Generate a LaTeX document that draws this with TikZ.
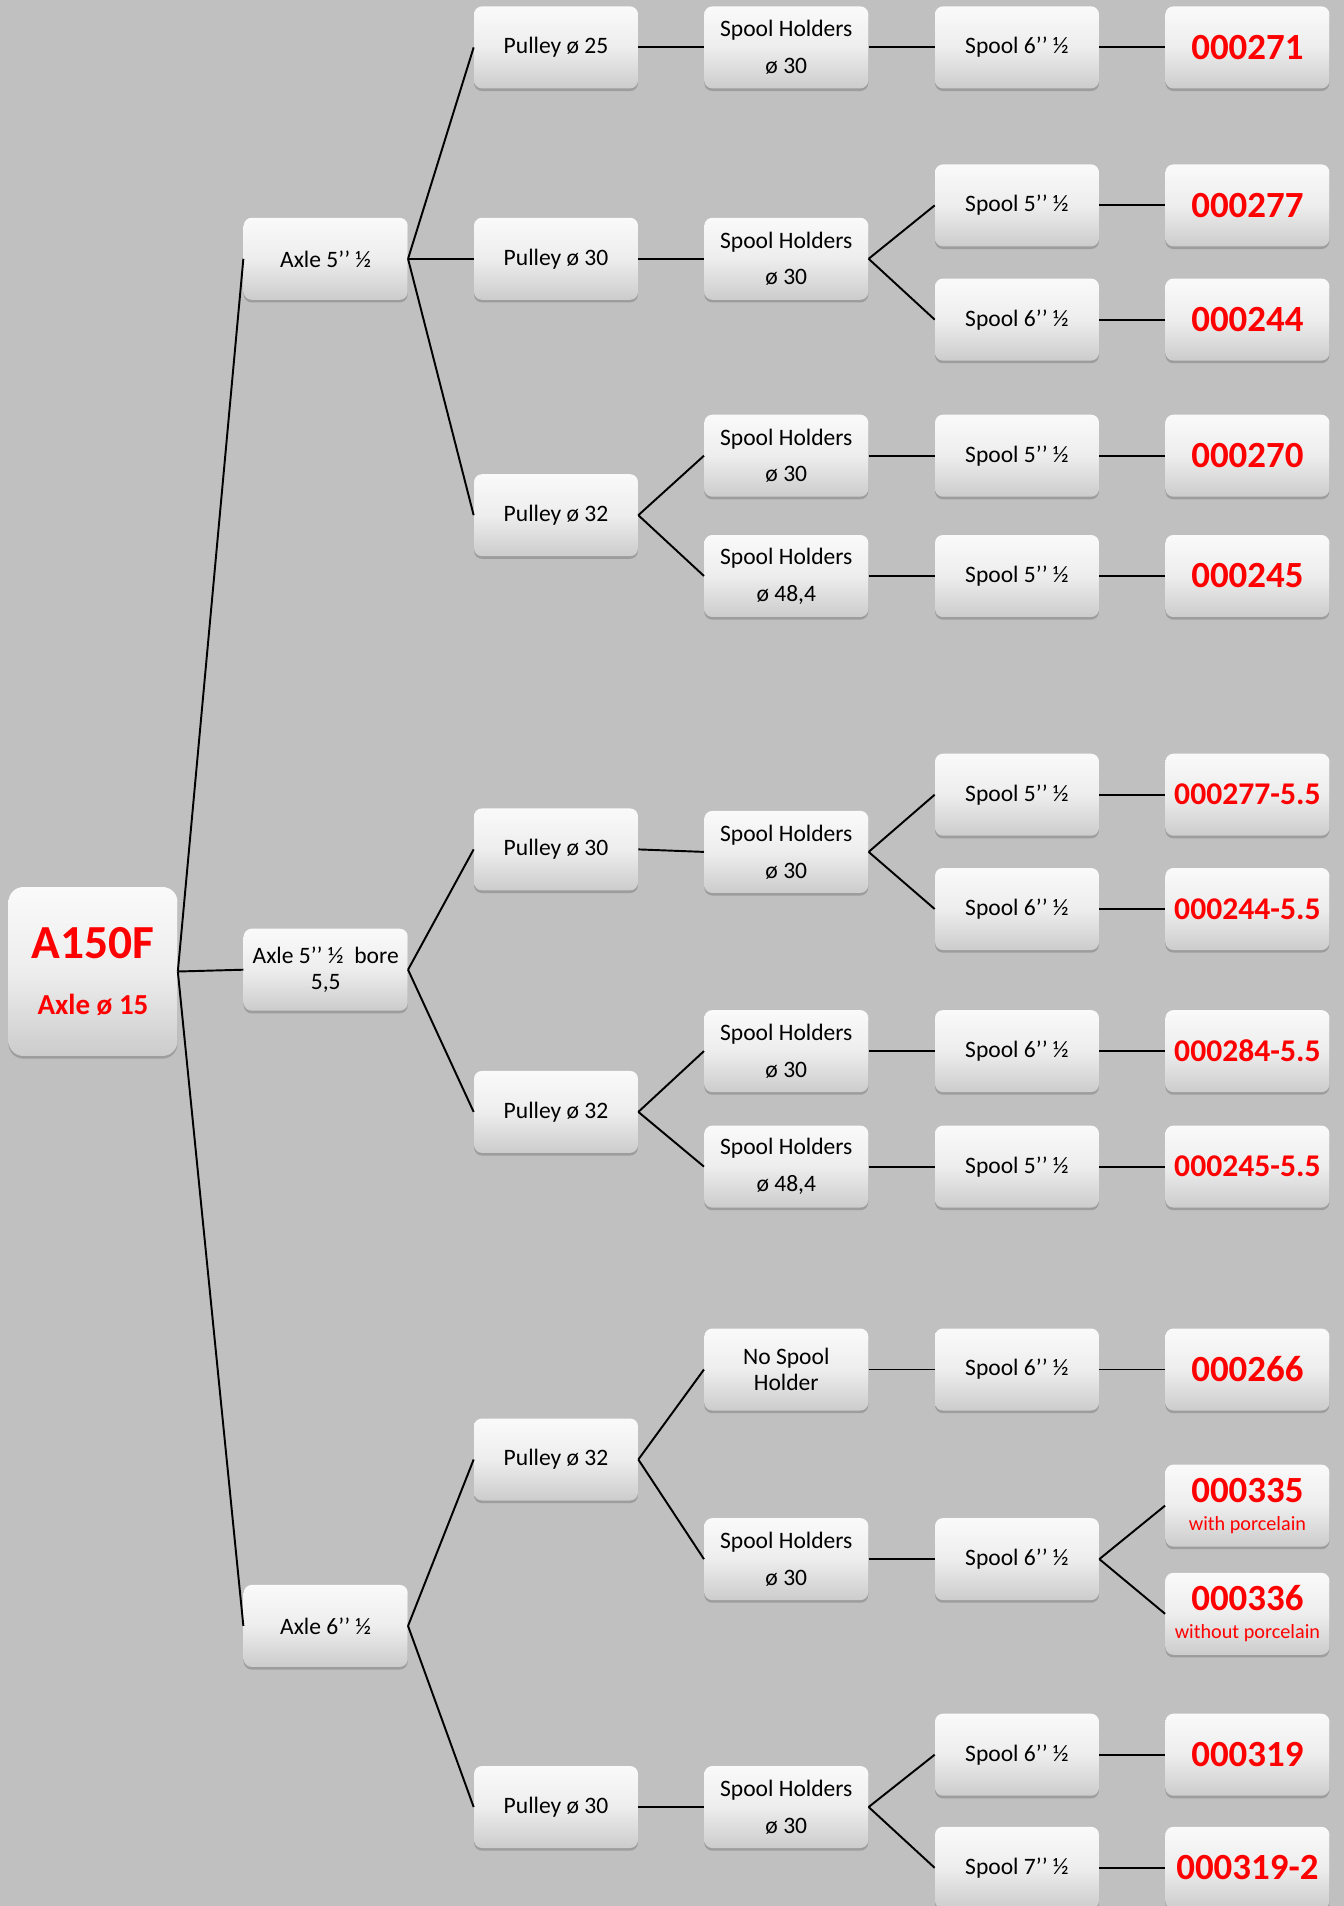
\documentclass[tikz,border=0pt]{standalone}
\usepackage{fontspec}
\setmainfont{Carlito}
\usetikzlibrary{shadows}
\definecolor{bggray}{RGB}{192,192,192}
\definecolor{codered}{RGB}{255,0,0}
\tikzset{
  part/.style={rounded corners=4.5pt, top color=black!2, bottom color=black!20, middle color=black!7,
    minimum width=3.28cm, minimum height=1.64cm, inner sep=0pt, align=center,
    font=\fontsize{13.4}{16}\selectfont,
    drop shadow={shadow xshift=0pt, shadow yshift=-1.5pt, opacity=0.18, fill=black}},
  tight/.style={font=\fontsize{13.4}{14.5}\selectfont},
  code/.style={part, text=codered, font=\bfseries\fontsize{21}{24}\selectfont},
  codesmall/.style={code, font=\bfseries\fontsize{18}{21}\selectfont},
  link/.style={line width=1.1pt}
}
\begin{document}
\begin{tikzpicture}[x=0.02cm, y=-0.02cm]
        \fill[bggray, use as bounding box] (0, 0) rectangle (1344, 1906);
        \clip (0, 0) rectangle (1344, 1906);
        \node[part, rounded corners=8.5pt, minimum width=3.38cm, minimum height=3.38cm, text=codered] (root) at (93, 971.5)
            {{\bfseries\fontsize{27}{30}\selectfont A150F}\\[16pt]{\bfseries\fontsize{16.5}{19}\selectfont Axle ø 15}};
        \node[part] (axA) at (325.7, 258.8) {Axle 5’’ ½};
        \node[part, tight] (axB) at (325.7, 969.7) {Axle 5’’ ½~ bore\\5,5};
        \node[part] (axC) at (325.7, 1625.9) {Axle 6’’ ½};
        \node[part] (puA1) at (556, 47.4) {Pulley ø 25};
        \node[part] (puA2) at (556, 258.8) {Pulley ø 30};
        \node[part] (puA3) at (556, 515.2) {Pulley ø 32};
        \node[part] (puB1) at (556, 849.4) {Pulley ø 30};
        \node[part] (puB2) at (556, 1111.9) {Pulley ø 32};
        \node[part] (puC1) at (556, 1459.5) {Pulley ø 32};
        \node[part] (puC2) at (556, 1807) {Pulley ø 30};
        \node[part] (shA1) at (786.3, 47.4) {Spool Holders\\[5pt]ø 30};
        \node[part] (shA2) at (786.3, 258.8) {Spool Holders\\[5pt]ø 30};
        \node[part] (shA3) at (786.3, 455.7) {Spool Holders\\[5pt]ø 30};
        \node[part] (shA4) at (786.3, 576) {Spool Holders\\[5pt]ø 48,4};
        \node[part] (shB1) at (786.3, 851.9) {Spool Holders\\[5pt]ø 30};
        \node[part] (shB2) at (786.3, 1051.1) {Spool Holders\\[5pt]ø 30};
        \node[part] (shB3) at (786.3, 1166.6) {Spool Holders\\[5pt]ø 48,4};
        \node[part, tight] (shC1) at (786.3, 1369.5) {No Spool\\Holder};
        \node[part] (shC2) at (786.3, 1559.1) {Spool Holders\\[5pt]ø 30};
        \node[part] (shC3) at (786.3, 1807) {Spool Holders\\[5pt]ø 30};
        \node[part] (spA1) at (1017, 47.4) {Spool 6’’ ½};
        \node[part] (spA2) at (1017, 205.4) {Spool 5’’ ½};
        \node[part] (spA3) at (1017, 319.6) {Spool 6’’ ½};
        \node[part] (spA4) at (1017, 455.7) {Spool 5’’ ½};
        \node[part] (spA5) at (1017, 576) {Spool 5’’ ½};
        \node[part] (spB1) at (1017, 794.7) {Spool 5’’ ½};
        \node[part] (spB2) at (1017, 909) {Spool 6’’ ½};
        \node[part] (spB3) at (1017, 1051.1) {Spool 6’’ ½};
        \node[part] (spB4) at (1017, 1166.6) {Spool 5’’ ½};
        \node[part] (spC1) at (1017, 1369.5) {Spool 6’’ ½};
        \node[part] (spC2) at (1017, 1559.1) {Spool 6’’ ½};
        \node[part] (spC3) at (1017, 1754.7) {Spool 6’’ ½};
        \node[part] (spC4) at (1017, 1867.8) {Spool 7’’ ½};
        \node[code] (c271) at (1247.4, 47.4) {000271};
        \node[code] (c277) at (1247.4, 205.4) {000277};
        \node[code] (c244) at (1247.4, 319.6) {000244};
        \node[code] (c270) at (1247.4, 455.7) {000270};
        \node[code] (c245) at (1247.4, 576) {000245};
        \node[codesmall] (c277b) at (1247.4, 794.7) {000277-5.5};
        \node[codesmall] (c244b) at (1247.4, 909) {000244-5.5};
        \node[codesmall] (c284b) at (1247.4, 1051.1) {000284-5.5};
        \node[codesmall] (c245b) at (1247.4, 1166.6) {000245-5.5};
        \node[code] (c266) at (1247.4, 1369.5) {000266};
        \node[code] (c335) at (1247.4, 1505.6) {000335\\[-8pt]{\mdseries\fontsize{11.5}{13}\selectfont with porcelain}};
        \node[code] (c336) at (1247.4, 1613.8) {000336\\[-8pt]{\mdseries\fontsize{11.5}{13}\selectfont without porcelain}};
        \node[code] (c319) at (1247.4, 1754.7) {000319};
        \node[code] (c319b) at (1247.4, 1867.8) {000319-2};
        \draw[link] (root.east) -- (axA.west);
        \draw[link] (root.east) -- (axB.west);
        \draw[link] (root.east) -- (axC.west);
        \draw[link] (axA.east) -- (puA1.west);
        \draw[link] (axA.east) -- (puA2.west);
        \draw[link] (axA.east) -- (puA3.west);
        \draw[link] (axB.east) -- (puB1.west);
        \draw[link] (axB.east) -- (puB2.west);
        \draw[link] (axC.east) -- (puC1.west);
        \draw[link] (axC.east) -- (puC2.west);
        \draw[link] (puA1.east) -- (shA1.west);
        \draw[link] (puA2.east) -- (shA2.west);
        \draw[link] (puA3.east) -- (shA3.west);
        \draw[link] (puA3.east) -- (shA4.west);
        \draw[link] (puB1.east) -- (shB1.west);
        \draw[link] (puB2.east) -- (shB2.west);
        \draw[link] (puB2.east) -- (shB3.west);
        \draw[link] (puC1.east) -- (shC1.west);
        \draw[link] (puC1.east) -- (shC2.west);
        \draw[link] (puC2.east) -- (shC3.west);
        \draw[link] (shA1.east) -- (spA1.west);
        \draw[link] (shA2.east) -- (spA2.west);
        \draw[link] (shA2.east) -- (spA3.west);
        \draw[link] (shA3.east) -- (spA4.west);
        \draw[link] (shA4.east) -- (spA5.west);
        \draw[link] (shB1.east) -- (spB1.west);
        \draw[link] (shB1.east) -- (spB2.west);
        \draw[link] (shB2.east) -- (spB3.west);
        \draw[link] (shB3.east) -- (spB4.west);
        \draw[link] (shC1.east) -- (spC1.west);
        \draw[link] (shC2.east) -- (spC2.west);
        \draw[link] (shC3.east) -- (spC3.west);
        \draw[link] (shC3.east) -- (spC4.west);
        \draw[link] (spA1.east) -- (c271.west);
        \draw[link] (spA2.east) -- (c277.west);
        \draw[link] (spA3.east) -- (c244.west);
        \draw[link] (spA4.east) -- (c270.west);
        \draw[link] (spA5.east) -- (c245.west);
        \draw[link] (spB1.east) -- (c277b.west);
        \draw[link] (spB2.east) -- (c244b.west);
        \draw[link] (spB3.east) -- (c284b.west);
        \draw[link] (spB4.east) -- (c245b.west);
        \draw[link] (spC1.east) -- (c266.west);
        \draw[link] (spC2.east) -- (c335.west);
        \draw[link] (spC2.east) -- (c336.west);
        \draw[link] (spC3.east) -- (c319.west);
        \draw[link] (spC4.east) -- (c319b.west);
\end{tikzpicture}
\end{document}
